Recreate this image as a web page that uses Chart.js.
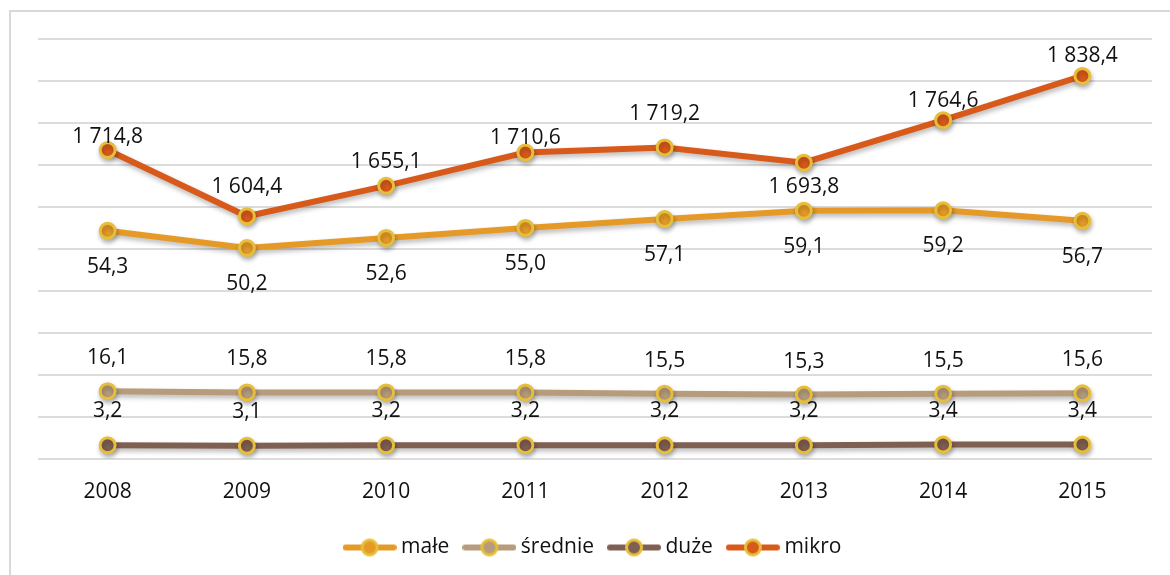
<!DOCTYPE html>
<html>
<head>
<meta charset="utf-8">
<script src="https://cdn.jsdelivr.net/npm/chart.js@4"></script>
<style>
  html, body { margin: 0; padding: 0; background: #fff; }
  #wrap { position: relative; width: 1170px; height: 575px; }
  #frame { position: absolute; left: 9px; top: 10px; width: 1200px; height: 600px;
           border-left: 2px solid #d9d9d9; border-top: 2px solid #d9d9d9; }
  canvas { position: absolute; left: 0; top: 0; }
</style>
</head>
<body>
<div id="wrap">
  <div id="frame"></div>
  <canvas id="chart" width="1170" height="575"></canvas>
</div>
<script>
// dane
const years = ['2008', '2009', '2010', '2011', '2012', '2013', '2014', '2015'];
const male = [54.3, 50.2, 52.6, 55.0, 57.1, 59.1, 59.2, 56.7];
const srednie = [16.1, 15.8, 15.8, 15.8, 15.5, 15.3, 15.5, 15.6];
const duze = [3.2, 3.1, 3.2, 3.2, 3.2, 3.2, 3.4, 3.4];
const mikro = [1714.8, 1604.4, 1655.1, 1710.6, 1719.2, 1693.8, 1764.6, 1838.4];

const FONT = '"Open Sans", "Liberation Sans", sans-serif';
const MARKER_BORDER = '#e6be3a';

// format liczby po polsku: 1 714,8
function fmt(v) {
    const parts = v.toFixed(1).split('.');
    const int = parts[0].replace(/\B(?=(\d{3})+(?!\d))/g, ' ');
    return int + ',' + parts[1];
}

// ikonka legendy: linia z kółkiem
function legendIcon(color) {
    const c = document.createElement('canvas');
    c.width = 54; c.height = 22;
    const g = c.getContext('2d');
    g.strokeStyle = color;
    g.lineWidth = 6;
    g.lineCap = 'round';
    g.beginPath(); g.moveTo(3, 11); g.lineTo(51, 11); g.stroke();
    g.beginPath(); g.arc(27, 11, 7.5, 0, Math.PI * 2);
    g.fillStyle = color; g.fill();
    g.lineWidth = 3; g.strokeStyle = MARKER_BORDER; g.stroke();
    return c;
}

function series(label, data, color, axis, labelOffset) {
    return {
        label: label,
        data: data,
        yAxisID: axis,
        borderColor: color,
        backgroundColor: color,
        borderWidth: 6,
        pointRadius: 7.5,
        pointHoverRadius: 7.5,
        pointBorderWidth: 3,
        pointBorderColor: MARKER_BORDER,
        pointBackgroundColor: color,
        pointStyle: 'circle',
        tension: 0,
        fill: false,
        labelOffset: labelOffset,
        legendIcon: legendIcon(color)
    };
}

// cień pod liniami
const shadowPlugin = {
    id: 'shadow',
    beforeDatasetDraw(chart) {
        const ctx = chart.ctx;
        ctx.save();
        ctx.shadowColor = 'rgba(0,0,0,0.28)';
        ctx.shadowBlur = 5;
        ctx.shadowOffsetX = 1;
        ctx.shadowOffsetY = 3;
    },
    afterDatasetDraw(chart) {
        chart.ctx.restore();
    }
};

// etykiety wartości
const valueLabels = {
    id: 'valueLabels',
    afterDatasetsDraw(chart) {
        const ctx = chart.ctx;
        ctx.save();
        ctx.font = '21px ' + FONT;
        ctx.fillStyle = '#111';
        ctx.textAlign = 'center';
        ctx.textBaseline = 'middle';
        chart.data.datasets.forEach((ds, i) => {
            const meta = chart.getDatasetMeta(i);
            meta.data.forEach((pt, j) => {
                const off = Array.isArray(ds.labelOffset) ? ds.labelOffset[j] : ds.labelOffset;
                ctx.fillText(fmt(ds.data[j]), pt.x, pt.y + off);
            });
        });
        ctx.restore();
    }
};

const ctx = document.getElementById('chart').getContext('2d');
new Chart(ctx, {
    type: 'line',
    data: {
        labels: years,
        datasets: [
            series('małe', male, '#e59a28', 'y', 36),
            series('średnie', srednie, '#b69c7c', 'y', -33),
            series('duże', duze, '#7f5f51', 'y', -34),
            series('mikro', mikro, '#d85a1a', 'y2', [-13, -29, -24, -15, -33, 24, -19, -20])
        ]
    },
    options: {
        responsive: false,
        animation: false,
        layout: { padding: { left: 38, right: 18, top: 39, bottom: 7 } },
        scales: {
            x: {
                offset: true,
                grid: { display: false },
                border: { display: false },
                ticks: { color: '#111', font: { family: FONT, size: 21 }, padding: 13 }
            },
            y: {
                min: 0, max: 100,
                ticks: { display: false, stepSize: 10 },
                grid: { color: '#dcdcdc', lineWidth: 2, drawTicks: false },
                border: { display: false }
            },
            y2: {
                min: 1200, max: 1900,
                display: false
            }
        },
        plugins: {
            tooltip: { enabled: false },
            legend: {
                position: 'bottom',
                labels: {
                    usePointStyle: true,
                    pointStyleWidth: 42,
                    color: '#111',
                    font: { family: FONT, size: 21 },
                    padding: 19,
                    generateLabels(chart) {
                        return chart.data.datasets.map((ds, i) => ({
                            text: ds.label,
                            pointStyle: ds.legendIcon,
                            fillStyle: ds.borderColor,
                            strokeStyle: ds.borderColor,
                            lineWidth: 0,
                            fontColor: '#111',
                            hidden: false,
                            datasetIndex: i
                        }));
                    }
                }
            }
        }
    },
    plugins: [shadowPlugin, valueLabels]
});
</script>
</body>
</html>
